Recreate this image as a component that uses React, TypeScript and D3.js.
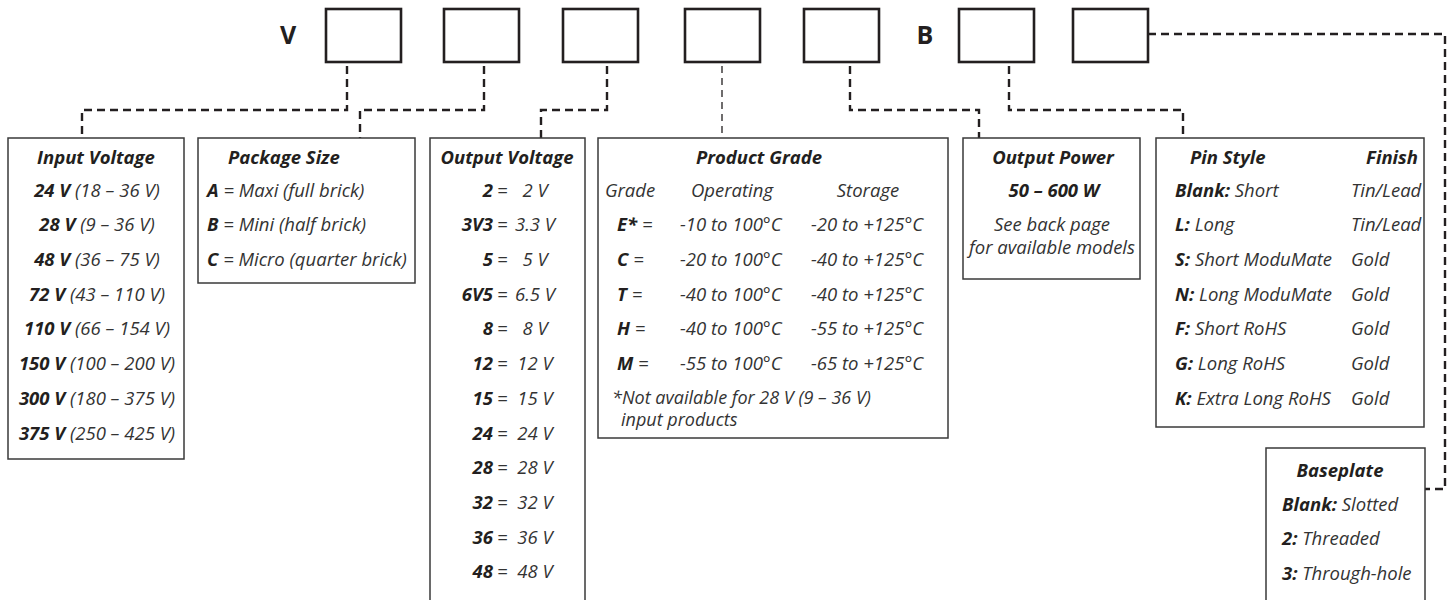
import React from "react";
import * as d3 from "d3";

// part-number key: letters and empty code boxes along the top
const codeSlots = ["V", "", "", "", "", "", "B", "", ""];

const inputVoltages: [string, string][] = [
  ["24 V", "(18 – 36 V)"],
  ["28 V", "(9 – 36 V)"],
  ["48 V", "(36 – 75 V)"],
  ["72 V", "(43 – 110 V)"],
  ["110 V", "(66 – 154 V)"],
  ["150 V", "(100 – 200 V)"],
  ["300 V", "(180 – 375 V)"],
  ["375 V", "(250 – 425 V)"],
];

const packageSizes: [string, string][] = [
  ["A", "= Maxi (full brick)"],
  ["B", "= Mini (half brick)"],
  ["C", "= Micro (quarter brick)"],
];

const outputVoltages: [string, string][] = [
  ["2", "2 V"],
  ["3V3", "3.3 V"],
  ["5", "5 V"],
  ["6V5", "6.5 V"],
  ["8", "8 V"],
  ["12", "12 V"],
  ["15", "15 V"],
  ["24", "24 V"],
  ["28", "28 V"],
  ["32", "32 V"],
  ["36", "36 V"],
  ["48", "48 V"],
];

const gradeColumns = ["Grade", "Operating", "Storage"];
const productGrades: [string, string, string][] = [
  ["E*", "-10 to 100°C", "-20 to +125°C"],
  ["C", "-20 to 100°C", "-40 to +125°C"],
  ["T", "-40 to 100°C", "-40 to +125°C"],
  ["H", "-40 to 100°C", "-55 to +125°C"],
  ["M", "-55 to 100°C", "-65 to +125°C"],
];
const gradeNote = ["*Not available for 28 V (9 – 36 V)", "input products"];

const outputPower = "50 – 600 W";
const powerNote = ["See back page", "for available models"];

const pinStyles: [string, string, string][] = [
  ["Blank:", "Short", "Tin/Lead"],
  ["L:", "Long", "Tin/Lead"],
  ["S:", "Short ModuMate", "Gold"],
  ["N:", "Long ModuMate", "Gold"],
  ["F:", "Short RoHS", "Gold"],
  ["G:", "Long RoHS", "Gold"],
  ["K:", "Extra Long RoHS", "Gold"],
];

const baseplates: [string, string][] = [
  ["Blank:", "Slotted"],
  ["2:", "Threaded"],
  ["3:", "Through-hole"],
];

const W = 1452;
const H = 600;
const FONT = "'Open Sans', 'Noto Sans', sans-serif";
const DARK = "#231f20";
const SOFT = "#333";
const FS = 18.5;

// x of each slot (letter centre or box left edge)
const slotX = [288, 326, 444, 563, 685, 804, 925, 959, 1073];
const BOX_W = 75;
const BOX_TOP = 9;
const BOX_BOTTOM = 62;

// rows inside the panels
const rowY = d3.scaleLinear().domain([0, 1]).range([190, 224.7]);
const base = (i: number) => rowY(i) + 6.6;
const HEAD = 163.5;
const PANEL_TOP = 138;

const panelStroke = { fill: "none", stroke: "#3a3a3a", strokeWidth: 1.5 };
const dash = { fill: "none", stroke: DARK, strokeWidth: 2.4, strokeDasharray: "8,5" };

function Bold({ children }: { children: React.ReactNode }) {
  return <tspan fontWeight={700} fill={DARK}>{children}</tspan>;
}

export default function App() {
  const boxes = codeSlots
    .map((s, i) => ({ s, x: slotX[i] }))
    .filter((d) => d.s === "");
  const letters = codeSlots
    .map((s, i) => ({ s, x: slotX[i] }))
    .filter((d) => d.s !== "");

  const line = d3.line();
  const connectors: [number, number][][] = [
    [[347, 66], [347, 110], [82, 110], [82, 138]],
    [[484, 66], [484, 110], [360, 110], [360, 138]],
    [[607, 66], [607, 110], [541, 110], [541, 138]],
    [[850, 66], [850, 110], [979, 110], [979, 138]],
    [[1009, 66], [1009, 110], [1183, 110], [1183, 138]],
    [[1148, 34], [1445, 34], [1445, 489], [1425, 489]],
  ];

  return (
    <svg
      width={W}
      height={H}
      style={{ position: "absolute", left: 0, top: 0, background: "#fff" }}
      fontFamily={FONT}
      fontStyle="italic"
      fontSize={FS}
      fill={SOFT}
    >
      {/* code letters */}
      {letters.map((d) => (
        <text key={d.s} x={d.x} y={44} textAnchor="middle" fontStyle="normal"
          fontWeight={700} fontSize={25} fill={DARK}>{d.s}</text>
      ))}
      {/* code boxes */}
      {boxes.map((d, i) => (
        <rect key={i} x={d.x} y={BOX_TOP} width={BOX_W} height={BOX_BOTTOM - BOX_TOP}
          fill="none" stroke={DARK} strokeWidth={2.6} />
      ))}

      {/* connectors */}
      {connectors.map((pts, i) => (
        <path key={i} d={line(pts) ?? ""} {...dash} />
      ))}
      <line x1={722} x2={722} y1={66} y2={138} stroke={DARK} strokeWidth={1.3} strokeDasharray="7,5" />

      {/* Input Voltage */}
      <rect x={8} y={PANEL_TOP} width={176} height={321} {...panelStroke} />
      <text x={96} y={HEAD} textAnchor="middle" fontWeight={700} fill={DARK}>Input Voltage</text>
      {inputVoltages.map(([b, r], i) => (
        <text key={b} x={97} y={base(i)} textAnchor="middle">
          <Bold>{b}</Bold> {r}
        </text>
      ))}

      {/* Package Size */}
      <rect x={198} y={PANEL_TOP} width={217} height={145} {...panelStroke} />
      <text x={228} y={HEAD} fontWeight={700} fill={DARK}>Package Size</text>
      {packageSizes.map(([b, r], i) => (
        <text key={b} x={207} y={base(i)}>
          <Bold>{b}</Bold> {r}
        </text>
      ))}

      {/* Output Voltage */}
      <rect x={430} y={PANEL_TOP} width={155} height={H} {...panelStroke} />
      <text x={507} y={HEAD} textAnchor="middle" fontWeight={700} fill={DARK}>Output Voltage</text>
      {outputVoltages.map(([b, r], i) => (
        <g key={b}>
          <text x={493} y={base(i)} textAnchor="end" fontWeight={700} fill={DARK}>{b}</text>
          <text x={497} y={base(i)}>=</text>
          <text x={535} y={base(i)} textAnchor="middle">{r}</text>
        </g>
      ))}

      {/* Product Grade */}
      <rect x={598} y={PANEL_TOP} width={350} height={300} {...panelStroke} />
      <text x={759} y={HEAD} textAnchor="middle" fontWeight={700} fill={DARK}>Product Grade</text>
      {gradeColumns.map((c, i) => (
        <text key={c} x={[630, 732, 868][i]} y={base(0)} textAnchor="middle">{c}</text>
      ))}
      {productGrades.map(([g, op, st], i) => (
        <g key={g}>
          <text x={617} y={base(i + 1)}><Bold>{g}</Bold> =</text>
          <text x={680} y={base(i + 1)}>{op}</text>
          <text x={811} y={base(i + 1)}>{st}</text>
        </g>
      ))}
      <text x={612} y={base(6) - 0.5} fontSize={18}>{gradeNote[0]}</text>
      <text x={621} y={base(6) + 21.5} fontSize={18}>{gradeNote[1]}</text>

      {/* Output Power */}
      <rect x={963} y={PANEL_TOP} width={177} height={141} {...panelStroke} />
      <text x={1053} y={HEAD} textAnchor="middle" fontWeight={700} fill={DARK}>Output Power</text>
      <text x={1054} y={base(0)} textAnchor="middle" fontWeight={700} fill={DARK}>{outputPower}</text>
      <text x={1052} y={base(1)} textAnchor="middle">{powerNote[0]}</text>
      <text x={1052} y={base(1) + 23} textAnchor="middle">{powerNote[1]}</text>

      {/* Pin Style / Finish */}
      <rect x={1156} y={PANEL_TOP} width={268} height={289} {...panelStroke} />
      <text x={1190} y={HEAD} fontWeight={700} fill={DARK}>Pin Style</text>
      <text x={1418} y={HEAD} textAnchor="end" fontWeight={700} fill={DARK}>Finish</text>
      {pinStyles.map(([b, r, f], i) => (
        <g key={b}>
          <text x={1175} y={base(i)}><Bold>{b}</Bold> {r}</text>
          <text x={1351} y={base(i)}>{f}</text>
        </g>
      ))}

      {/* Baseplate */}
      <rect x={1266} y={448} width={159} height={H} {...panelStroke} />
      <text x={1340} y={476.5} textAnchor="middle" fontWeight={700} fill={DARK}>Baseplate</text>
      {baseplates.map(([b, r], i) => (
        <text key={b} x={1282} y={510.6 + i * 34.5}><Bold>{b}</Bold> {r}</text>
      ))}
    </svg>
  );
}
